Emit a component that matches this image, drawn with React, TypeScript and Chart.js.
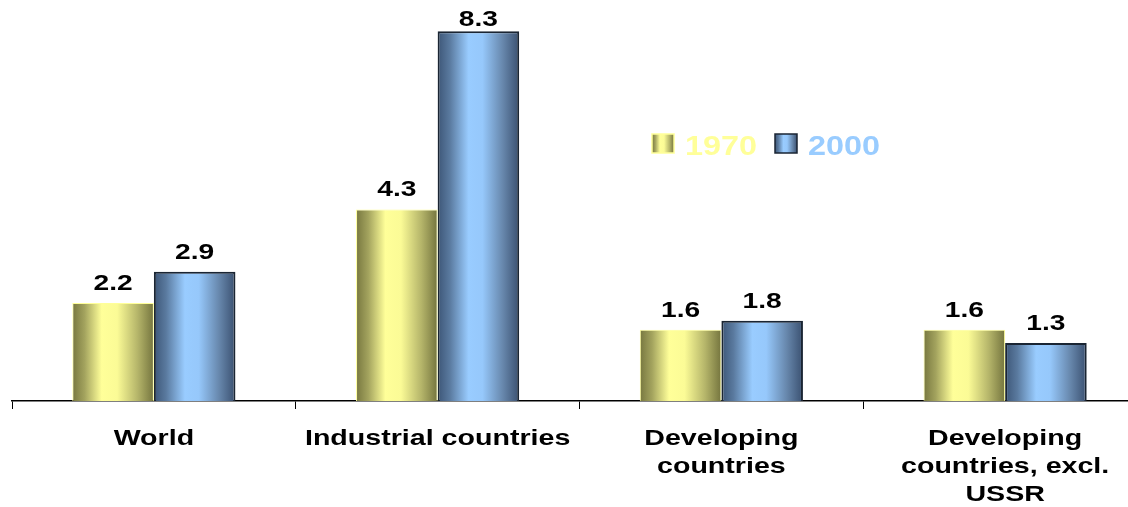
import React, { useEffect, useRef } from "react";
import { Chart, registerables } from "chart.js";

Chart.register(...registerables);

const categories: string[][] = [
  ["World"],
  ["Industrial countries"],
  ["Developing", "countries"],
  ["Developing", "countries, excl.", "USSR"],
];
const seriesNames = ["1970", "2000"];
const values1970 = [2.2, 4.3, 1.6, 1.6];
const values2000 = [2.9, 8.3, 1.8, 1.3];
const valueLabels1970 = ["2.2", "4.3", "1.6", "1.6"];
const valueLabels2000 = ["2.9", "8.3", "1.8", "1.3"];

const legendTextColors = ["#FFFF99", "#99CCFF"];
const borderColors = ["#FFFF99", "#1A2533"];
const gradientStops: [number, string][][] = [
  [
    [0, "#77773F"],
    [0.15, "#A3A35E"],
    [0.36, "#FFFF99"],
    [0.55, "#FBFB96"],
    [0.8, "#B5B56A"],
    [1, "#74743E"],
  ],
  [
    [0, "#3D5677"],
    [0.15, "#5A7A9F"],
    [0.38, "#99CCFF"],
    [0.55, "#96C8FB"],
    [0.8, "#6787AC"],
    [1, "#3A5070"],
  ],
];

const FONT = '"Liberation Sans", Arial, sans-serif';

function stretchText(ctx: CanvasRenderingContext2D, text: string, x: number, y: number, sx: number) {
  ctx.save();
  ctx.translate(x, y);
  ctx.scale(sx, 1);
  ctx.fillText(text, 0, 0);
  ctx.restore();
}

function makeGradient(ctx: CanvasRenderingContext2D, left: number, width: number, di: number) {
  const g = ctx.createLinearGradient(left, 0, left + width, 0);
  gradientStops[di].forEach(([o, c]) => g.addColorStop(o, c));
  return g;
}

const customPlugin = {
  id: "customDraw",
  beforeDatasetsDraw(chart: any) {
    const ctx = chart.ctx as CanvasRenderingContext2D;
    chart.data.datasets.forEach((_ds: any, di: number) => {
      const meta = chart.getDatasetMeta(di);
      meta.data.forEach((bar: any) => {
        const left = bar.x - bar.width / 2;
        bar.options = { ...bar.options, backgroundColor: makeGradient(ctx, left, bar.width, di) };
      });
    });
  },
  afterDraw(chart: any) {
    const ctx = chart.ctx as CanvasRenderingContext2D;
    const xScale = chart.scales.x;
    const area = chart.chartArea;
    ctx.save();
    ctx.fillStyle = "#000000";
    ctx.textAlign = "center";
    ctx.textBaseline = "alphabetic";

    // value labels
    const labelSets = [valueLabels1970, valueLabels2000];
    ctx.font = `bold 22px ${FONT}`;
    chart.data.datasets.forEach((_ds: any, di: number) => {
      const meta = chart.getDatasetMeta(di);
      meta.data.forEach((bar: any, i: number) => {
        const y = Math.max(bar.y - 13, area.top + 26);
        stretchText(ctx, labelSets[di][i], bar.x, y, 1.28);
      });
    });

    // category labels
    ctx.font = `bold 22px ${FONT}`;
    categories.forEach((lines, i) => {
      const cx = xScale.getPixelForValue(i);
      lines.forEach((line, li) => {
        stretchText(ctx, line, cx, area.bottom + 44 + li * 28, 1.3);
      });
    });

    // legend
    const legendItems = [
      { box: 652, text: 685 },
      { box: 775, text: 808 },
    ];
    ctx.textAlign = "left";
    ctx.font = `bold 27px ${FONT}`;
    seriesNames.forEach((name, di) => {
      const it = legendItems[di];
      const bx = it.box, by = 134, bw = 22, bh = 19;
      ctx.fillStyle = makeGradient(ctx, bx, bw, di);
      ctx.fillRect(bx, by, bw, bh);
      ctx.strokeStyle = borderColors[di];
      ctx.lineWidth = 1.5;
      ctx.strokeRect(bx, by, bw, bh);
      ctx.fillStyle = legendTextColors[di];
      stretchText(ctx, name, it.text, 155, 1.2);
    });
    ctx.restore();
  },
};

export default function App() {
  const canvasRef = useRef<HTMLCanvasElement | null>(null);

  useEffect(() => {
    if (!canvasRef.current) return;
    const chart = new Chart(canvasRef.current, {
      type: "bar",
      data: {
        labels: categories.map((c) => c.join(" ")),
        datasets: [
          {
            label: seriesNames[0],
            data: values1970,
            backgroundColor: "#FFFF99",
            borderColor: borderColors[0],
            borderWidth: 1,
            borderSkipped: "bottom",
          },
          {
            label: seriesNames[1],
            data: values2000,
            backgroundColor: "#99CCFF",
            borderColor: borderColors[1],
            borderWidth: 2,
            borderSkipped: "bottom",
          },
        ],
      },
      options: {
        responsive: false,
        animation: false,
        layout: { padding: { left: 12, right: 13, top: 0, bottom: 0 } },
        datasets: { bar: { barPercentage: 1, categoryPercentage: 0.575 } },
        plugins: {
          legend: { display: false },
          tooltip: { enabled: false },
        },
        scales: {
          x: {
            offset: true,
            ticks: { display: false },
            grid: {
              offset: true,
              drawOnChartArea: false,
              drawTicks: true,
              tickLength: 8,
              color: "#000000",
              lineWidth: 1,
            },
            border: { display: true, color: "#000000", width: 1.5 },
            afterFit: (scale: any) => {
              scale.height = 106;
            },
          },
          y: {
            display: false,
            min: 0,
            max: 9,
          },
        },
      },
      plugins: [customPlugin],
    });
    return () => chart.destroy();
  }, []);

  return (
    <div
      style={{
        position: "absolute",
        left: 0,
        top: 0,
        width: 1128,
        height: 507,
        overflow: "hidden",
        background: "#ffffff",
      }}
    >
      <canvas ref={canvasRef} width={1160} height={507} style={{ width: 1160, height: 507, display: "block" }} />
    </div>
  );
}
